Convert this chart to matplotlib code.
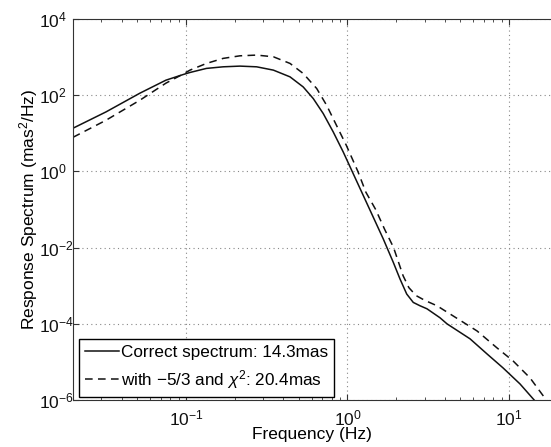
import matplotlib
matplotlib.use('Agg')
import matplotlib.pyplot as plt
from matplotlib.ticker import LogLocator, NullFormatter

plt.rcParams['font.family'] = ['Liberation Sans', 'DejaVu Sans']
plt.rcParams['mathtext.fontset'] = 'custom'
plt.rcParams['mathtext.rm'] = 'Liberation Sans'
plt.rcParams['mathtext.it'] = 'Liberation Sans:italic'

# Correct spectrum (solid)
freq_correct = [0.020, 0.032, 0.0519, 0.0752, 0.0958, 0.106, 0.134, 0.170, 0.216, 0.274,
                0.348, 0.441, 0.532, 0.614, 0.708, 0.817, 0.942, 1.086, 1.253, 1.445,
                1.666, 1.922, 2.115, 2.327, 2.555, 2.81, 3.105, 3.74, 4.13, 5.74,
                7.31, 9.19, 11.7, 14.5, 18.3]
spec_correct = [13.6, 36.4, 113, 248, 347, 395, 505, 556, 580, 556,
                455, 303, 165, 81.8, 33, 10.8, 3.22, 0.869, 0.233, 0.0627,
                0.0169, 0.0041, 0.0015, 6.05e-4, 3.64e-4, 2.98e-4, 2.48e-4, 1.44e-4, 1.0e-4, 4.03e-5,
                1.62e-5, 6.95e-6, 2.64e-6, 9.4e-7, 3.2e-7]

# with -5/3 and chi^2 (dashed)
freq_chi2 = [0.020, 0.032, 0.0519, 0.0752, 0.0958, 0.106, 0.134, 0.170, 0.216, 0.274,
             0.348, 0.441, 0.532, 0.645, 0.743, 0.855, 0.984, 1.16, 1.30, 1.495,
             1.70, 1.93, 2.21, 2.40, 2.66, 3.02, 3.58, 4.50, 6.34, 8.43,
             10.6, 13.5, 17.2, 18.3]
spec_chi2 = [7.85, 22, 73.9, 207, 357, 455, 682, 925, 1081, 1129,
             1019, 682, 372, 150, 54.5, 16.2, 4.83, 1.0, 0.285, 0.1,
             0.03, 0.01, 1.83e-3, 8.9e-4, 5.5e-4, 4.1e-4, 2.98e-4, 1.62e-4, 6.5e-5, 2.33e-5,
             1.06e-5, 3.8e-6, 9.4e-7, 6.5e-7]

labels = ['Correct spectrum: 14.3mas', r'with $-$5/3 and $\chi^2$: 20.4mas']

fig = plt.figure(figsize=(5.51, 4.47), dpi=100)
ax = fig.add_axes([73/551, 1 - 400/447, 1 - 73/551, (400 - 19)/447])

ax.loglog(freq_correct, spec_correct, color='#111111', lw=1.1, label=labels[0])
ax.loglog(freq_chi2, spec_chi2, color='#111111', lw=1.1, dashes=(5, 3.5), label=labels[1])

ax.set_xlim(0.02, 18.2)
ax.set_ylim(1e-6, 1e4)
ax.yaxis.set_major_locator(LogLocator(base=100))
ax.yaxis.set_minor_locator(LogLocator(base=10, subs=[1.0]))
ax.yaxis.set_minor_formatter(NullFormatter())
ax.yaxis.set_tick_params(which='minor', length=0)
ax.xaxis.set_minor_locator(LogLocator(base=10, subs=range(2, 10)))
ax.xaxis.set_minor_formatter(NullFormatter())

ax.grid(True, which='major', color='#888888', linestyle=(0, (1, 3)), lw=0.8)
ax.tick_params(which='both', direction='in', top=True, right=False, labelsize=12.5,
               color='#333333', labelcolor='#111111')
ax.tick_params(which='major', length=4.5)
ax.tick_params(axis='x', which='major', pad=6)
ax.tick_params(axis='y', which='major', pad=24.5)
ax.tick_params(which='minor', length=2.5, labelbottom=False, labelleft=False)
for lab in ax.get_yticklabels():
    lab.set_horizontalalignment('left')
for side in ['left', 'bottom', 'top']:
    ax.spines[side].set_color('#333333')
ax.spines['right'].set_visible(False)

ax.set_xlabel('Frequency (Hz)', fontsize=12.5)
ax.set_ylabel('Response Spectrum (mas$^2$/Hz)', fontsize=12.5)
ax.xaxis.set_label_coords(0.5, -0.07)
ax.yaxis.set_label_coords(-0.07, 0.5)

leg = ax.legend(loc='lower left', bbox_to_anchor=(0.0126, 0.008), borderaxespad=0,
                fontsize=12.3, handlelength=2.0, handletextpad=0.12,
                borderpad=0.35, labelspacing=0.45, fancybox=False,
                edgecolor='black', framealpha=1)
leg.get_frame().set_linewidth(1.0)

fig.savefig('out.png', dpi=100)
